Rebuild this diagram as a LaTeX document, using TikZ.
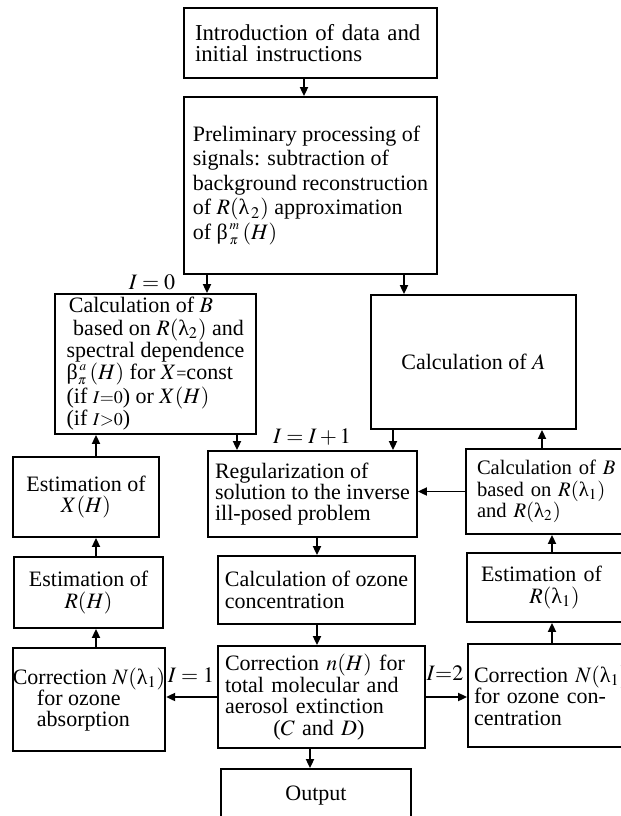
\documentclass[tikz,border=0pt]{standalone}
\usepackage{mathptmx}
\usepackage{fontspec}
\setmainfont{Liberation Serif}
\usetikzlibrary{arrows.meta}
\newcommand{\ulam}{\mbox{λ}}
\newcommand{\ubeta}{\mbox{β}}

\begin{document}
\begin{tikzpicture}[x=0.5pt, y=-0.5pt, line width=0.9pt,
  font=\fontsize{11}{10.7}\selectfont,
  blk/.style={draw, line width=0.9pt, inner sep=0pt, align=left},
  lab/.style={inner sep=0pt},
  arr/.style={line width=0.9pt, -{Triangle[length=4.5pt,width=4pt]}}]
  \useasboundingbox (0,0) rectangle (621,816);
  % boxes: centre given in pixels of the scheme, size in pt
  \node[blk, minimum width=126.5pt, minimum height=35pt, inner xsep=5.5pt,
    text width=115.5pt, font=\fontsize{11.4}{10.9}\selectfont] (intro) at (310.5,43)
    {Introduction of data and\\initial instructions};
  \node[blk, minimum width=126.5pt, minimum height=88.5pt,
    font=\fontsize{11}{12.2}\selectfont] (prep) at (310.5,185.5)
    {Preliminary processing of\\signals: subtraction of\\background reconstruction\\
     of $R(\ulam_{\,2})$ approximation\\of $\ubeta^{\,\scriptscriptstyle m}_{\,\scriptscriptstyle\pi}\,(H)$};
  \node[blk, minimum width=100.5pt, minimum height=70pt,
    font=\fontsize{11}{11.1}\selectfont] (calcB) at (155.5,364)
    {\hspace*{0.1em}Calculation of $B$\\\hspace*{0.3em}based on $R(\ulam_2)$ and\\
     spectral dependence\\$\ubeta^{\,\scriptscriptstyle a}_{\scriptscriptstyle\pi}\,(H)$ for $X${\small=}const\\
     (if {\small$I{=}0$}) or $X(H)$\\(if {\small$I{>}0$})};
  \node[blk, minimum width=102.5pt, minimum height=67pt] (calcA) at (473.5,362)
    {Calculation of $A$};
  \node[blk, align=center, minimum width=73pt, minimum height=40pt] (estX) at (86,497)
    {Estimation of\\$X(H)$};
  \node[blk, minimum width=104.5pt, minimum height=43pt] (regul) at (312.5,494)
    {Regularization of\\solution to the inverse\\ill-posed problem};
  \node[blk, minimum width=85pt, minimum height=42.5pt, inner xsep=5.5pt,
    text width=74pt, font=\fontsize{10.3}{10.7}\selectfont] (calcBr) at (551,491.5)
    {Calculation of $B$\\based on $R(\ulam_1)$\\and $R(\ulam_2)$};
  \node[blk, align=center, minimum width=74.5pt, minimum height=35.5pt] (estR) at (88.5,592.5)
    {Estimation of\\$R(H)$};
  \node[blk, minimum width=98.5pt, minimum height=34pt] (ozone) at (316.5,590)
    {Calculation of ozone\\concentration};
  \node[blk, minimum width=84.5pt, minimum height=34.5pt, inner xsep=7pt,
    text width=70.5pt] (estRl) at (551.5,587.5)
    {Estimation of\\\hspace*{2.2em}$R(\ulam_1)$};
  \node[blk, minimum width=75pt, minimum height=51.5pt] (corrL) at (89,699.5)
    {Correction $N(\ulam_1)$\\\hspace*{1.1em}for ozone\\\hspace*{1.1em}absorption};
  \node[blk, minimum width=103.5pt, minimum height=51pt, inner xsep=3.5pt,
    text width=96.5pt] (corrN) at (321.5,697)
    {Correction $n(H)$ for\\total molecular and\\aerosol extinction\\
     \hspace*{2.2em}($C$ and $D$)};
  \node[blk, minimum width=84pt, minimum height=51.5pt, inner xsep=3pt,
    text width=78pt] (corrR) at (552,695.5)
    {Correction $N(\ulam_1)$\\for ozone con-\\centration};
  \node[blk, align=center, minimum width=95pt, minimum height=26.5pt] (output) at (316,795.5)
    {Output};
  % loop counters
  \node[lab] (i0) at (152,282) {$I=0$};
  \node[lab] (i1) at (312,437) {$I=I+1$};
  \node[lab] (i2) at (191,675) {$I=1$};
  \node[lab] (i3) at (445,673) {$I{=}2$};
  % x of the vertical arrows
  \coordinate (xin) at (304,0);
  \coordinate (xb) at (207,0);
  \coordinate (xa) at (404,0);
  \coordinate (xbr) at (237,0);
  \coordinate (xar) at (393,0);
  \coordinate (xl) at (96,0);
  \coordinate (xoz) at (317,0);
  \coordinate (xout) at (310,0);
  \coordinate (xra) at (542,0);
  \coordinate (xrb) at (552,0);
  \draw[arr] (intro.south -| xin) -- (prep.north -| xin);
  \draw[arr] (prep.south -| xb) -- (calcB.north -| xb);
  \draw[arr] (prep.south -| xa) -- (calcA.north -| xa);
  \draw[arr] (calcB.south -| xbr) -- (regul.north -| xbr);
  \draw[arr] (calcA.south -| xar) -- (regul.north -| xar);
  \draw[arr] (calcBr.west) -- (calcBr.west -| regul.east);
  \draw[arr] (calcBr.north -| xra) -- (calcA.south -| xra);
  \draw[arr] (estX.north -| xl) -- (calcB.south -| xl);
  \draw[arr] (estR.north -| xl) -- (estX.south -| xl);
  \draw[arr] (corrL.north -| xl) -- (estR.south -| xl);
  \draw[arr] (regul.south -| xoz) -- (ozone.north -| xoz);
  \draw[arr] (ozone.south -| xoz) -- (corrN.north -| xoz);
  \draw[arr] (corrN.west) -- (corrN.west -| corrL.east);
  \draw[arr] (corrN.east) -- (corrN.east -| corrR.west);
  \draw[arr] (corrN.south -| xout) -- (output.north -| xout);
  \draw[arr] (corrR.north -| xrb) -- (estRl.south -| xrb);
  \draw[arr] (estRl.north -| xrb) -- (calcBr.south -| xrb);
\end{tikzpicture}
\end{document}
